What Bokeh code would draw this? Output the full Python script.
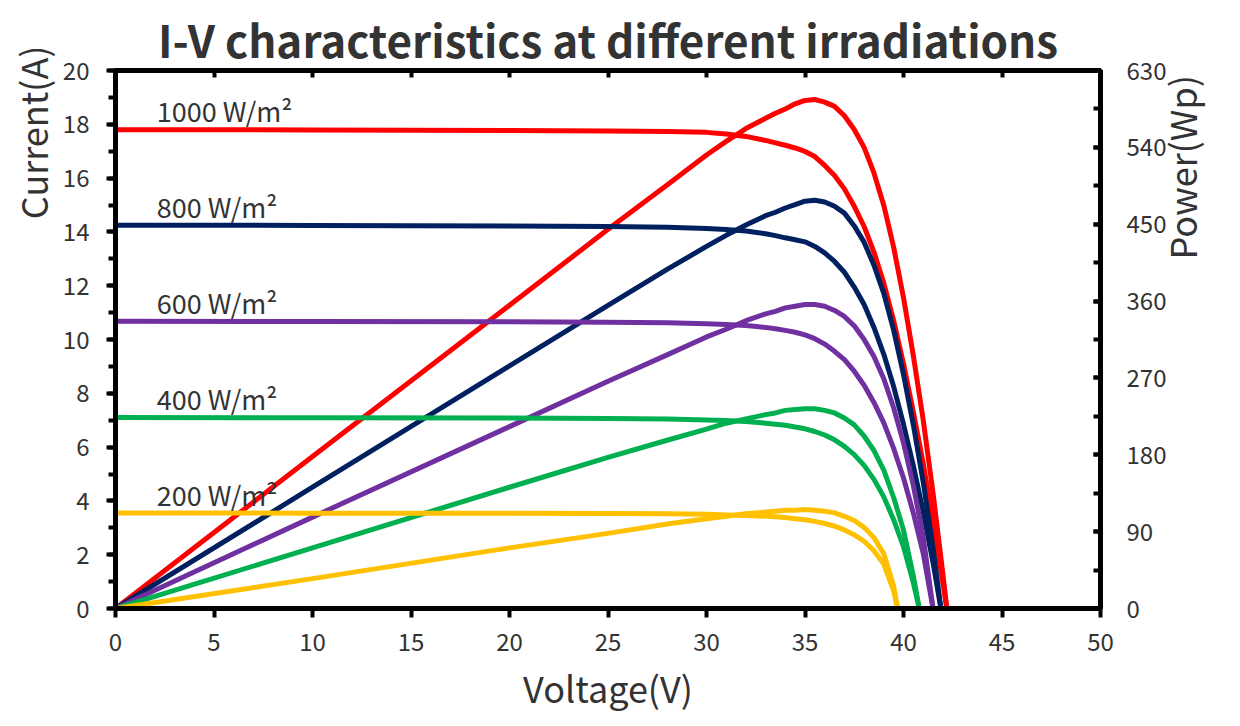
import math

from bokeh.embed import file_html
from bokeh.models import (CustomJSTickFormatter, Label, LinearAxis, Range1d,
                          SingleIntervalTicker, Title)
from bokeh.plotting import figure
from bokeh.resources import INLINE

# ---- data ----
irradiances = ["1000 W/m²", "800 W/m²", "600 W/m²", "400 W/m²", "200 W/m²"]
colors = ["#ff0000", "#002060", "#7030a0", "#00b050", "#ffc000"]

voltage_1000 = [0, 10, 20, 25, 28, 30, 31, 32, 33, 33.5, 34, 34.5, 35, 35.5, 36, 36.5,
                37, 37.5, 38, 38.5, 39, 39.5, 40, 40.5, 41, 41.5, 42, 42.2]
current_1000 = [17.80, 17.79, 17.77, 17.75, 17.73, 17.70, 17.64, 17.55, 17.40, 17.31,
                17.22, 17.12, 16.99, 16.80, 16.47, 16.10, 15.60, 14.95, 14.20, 13.25,
                12.10, 10.70, 9.10, 7.30, 5.40, 3.25, 0.95, 0]
power_1000 = [0, 178, 355, 444, 496, 531, 547, 562, 574, 580, 585, 591, 595, 596, 593, 588,
              577, 561, 540, 510, 472, 423, 364, 296, 221, 135, 40, 0]

voltage_800 = [0, 10, 20, 25, 28, 30, 31, 32, 33, 33.5, 34, 34.5, 35, 35.5, 36, 36.5,
               37, 37.5, 38, 38.5, 39, 39.5, 40, 40.5, 41, 41.5, 41.9]
current_800 = [14.25, 14.24, 14.22, 14.20, 14.17, 14.13, 14.09, 14.03, 13.93, 13.86,
               13.78, 13.71, 13.63, 13.46, 13.22, 12.90, 12.50, 11.95, 11.30, 10.45,
               9.45, 8.25, 6.85, 5.30, 3.60, 1.70, 0]
power_800 = [0, 142, 284, 355, 397, 424, 437, 449, 460, 464, 469, 473, 477, 478, 476, 471,
             463, 448, 429, 402, 369, 326, 274, 215, 148, 71, 0]

voltage_600 = [0, 10, 20, 25, 28, 30, 31, 32, 33, 33.5, 34, 34.5, 35, 35.5, 36, 36.5,
               37, 37.5, 38, 38.5, 39, 39.5, 40, 40.5, 41, 41.5]
current_600 = [10.68, 10.67, 10.66, 10.64, 10.62, 10.59, 10.56, 10.52, 10.45, 10.40,
               10.34, 10.27, 10.17, 10.03, 9.83, 9.56, 9.25, 8.82, 8.30, 7.66,
               6.90, 5.95, 4.85, 3.55, 2.05, 0]
power_600 = [0, 107, 213, 266, 297, 318, 327, 337, 345, 348, 352, 354, 356, 356, 354, 349,
             342, 331, 315, 295, 269, 235, 194, 144, 84, 0]

voltage_400 = [0, 10, 20, 25, 28, 30, 31, 32, 33, 33.5, 34, 34.5, 35, 35.5, 36, 36.5,
               37, 37.5, 38, 38.5, 39, 39.5, 40, 40.5, 40.8]
current_400 = [7.10, 7.09, 7.08, 7.06, 7.04, 7.01, 6.99, 6.95, 6.89, 6.85,
               6.81, 6.75, 6.68, 6.58, 6.45, 6.27, 6.03, 5.72, 5.32, 4.80,
               4.15, 3.30, 2.30, 0.95, 0]
power_400 = [0, 71, 142, 177, 197, 210, 217, 222, 227, 229, 232, 233, 234, 234, 232, 229,
             223, 215, 202, 185, 162, 130, 92, 38, 0]

voltage_200 = [0, 10, 20, 25, 28, 30, 31, 32, 33, 33.5, 34, 34.5, 35, 35.5, 36, 36.5,
               37, 37.5, 38, 38.5, 39, 39.5, 39.7]
current_200 = [3.55, 3.545, 3.54, 3.53, 3.52, 3.50, 3.48, 3.46, 3.43, 3.41,
               3.38, 3.34, 3.30, 3.24, 3.16, 3.06, 2.92, 2.74, 2.50, 2.15,
               1.65, 0.65, 0]
power_200 = [0, 35, 71, 88, 99, 105, 108, 111, 113, 114, 115, 115, 116, 115, 114, 112,
             108, 103, 95, 83, 64, 26, 0]

voltages = [voltage_1000, voltage_800, voltage_600, voltage_400, voltage_200]
currents = [current_1000, current_800, current_600, current_400, current_200]
powers = [power_1000, power_800, power_600, power_400, power_200]

FONT = "Noto Sans CJK SC"
TEXT = "#333333"

p = figure(frame_width=985, frame_height=538,
           min_border_left=115, min_border_right=132,
           min_border_top=70, min_border_bottom=100,
           x_range=Range1d(0, 50), y_range=Range1d(0, 20),
           output_backend="svg", toolbar_location=None)
p.extra_y_ranges = {"power": Range1d(0, 630)}
p.xgrid.visible = False
p.ygrid.visible = False
p.outline_line_color = "black"
p.outline_line_width = 5
p.background_fill_color = "white"
p.border_fill_color = "white"

# title
p.title.text = "I-V characteristics at different irradiations"
p.title.align = "center"
p.title.text_font = FONT
p.title.text_font_size = "44px"
p.title.text_font_style = "bold"
p.title.text_color = TEXT
p.title.standoff = 0

# bottom axis
xa = p.xaxis[0]
xa.ticker = SingleIntervalTicker(interval=5, num_minor_ticks=0)
xa.axis_line_width = 5
xa.major_tick_line_width = 4
xa.major_tick_out = 9
xa.major_tick_in = 0
xa.minor_tick_line_color = None
xa.major_label_standoff = 15
xa.major_label_text_font = FONT
xa.major_label_text_font_size = "24px"
xa.major_label_text_color = TEXT
xa.axis_label = "Voltage(V)"
xa.axis_label_standoff = 7
xa.axis_label_text_font = FONT
xa.axis_label_text_font_size = "36px"
xa.axis_label_text_font_style = "normal"
xa.axis_label_text_color = TEXT

# left axis
ya = p.yaxis[0]
ya.ticker = SingleIntervalTicker(interval=2, num_minor_ticks=2)
ya.axis_line_width = 5
ya.major_tick_line_width = 4
ya.minor_tick_line_width = 4
ya.major_tick_out = 9
ya.major_tick_in = 0
ya.minor_tick_out = 7
ya.minor_tick_in = 0
ya.major_label_standoff = 17
ya.major_label_text_font = FONT
ya.major_label_text_font_size = "24px"
ya.major_label_text_color = TEXT

# right axis (power); the rotated title starts at the axis middle and reads
# upward, two ideographic spaces lift the words toward the top like the reference
ra = LinearAxis(y_range_name="power", ticker=SingleIntervalTicker(interval=90, num_minor_ticks=2))
ra.axis_line_width = 5
ra.major_tick_line_width = 4
ra.minor_tick_line_width = 4
ra.major_tick_in = 7
ra.major_tick_out = 0
ra.minor_tick_in = 7
ra.minor_tick_out = 0
ra.major_label_standoff = 26
ra.major_label_text_font = FONT
ra.major_label_text_font_size = "24px"
ra.major_label_text_color = TEXT
ra.axis_label = "\u3000\u3000\u00a0Power(Wp)"
ra.axis_label_orientation = math.pi / 2
ra.axis_label_align = "center"
ra.axis_label_standoff = 12
ra.axis_label_text_font = FONT
ra.axis_label_text_font_size = "36px"
ra.axis_label_text_font_style = "normal"
ra.axis_label_text_color = TEXT
p.add_layout(ra, "right")

# top axis, ticks only
ta = LinearAxis(ticker=SingleIntervalTicker(interval=5, num_minor_ticks=0),
                formatter=CustomJSTickFormatter(code="return ''"))
ta.axis_line_width = 5
ta.major_tick_line_width = 4
ta.major_tick_in = 7
ta.major_tick_out = 0
ta.minor_tick_line_color = None
ta.major_label_standoff = 0
p.add_layout(ta, "above")

# current title, pushed to the top end like the reference
p.add_layout(Title(text="Current(A)", align="right", text_font=FONT, text_font_size="36px",
                   text_font_style="normal", text_color=TEXT, offset=-25, standoff=3), "left")

# curves
for v, i, pw, c in zip(voltages, currents, powers, colors):
    p.line(v, i, line_color=c, line_width=5, line_join="round", line_cap="round")
    p.line(v, pw, line_color=c, line_width=5, line_join="round", line_cap="round",
           y_range_name="power")

# irradiance labels above the I-V plateaus
for name, i in zip(irradiances, currents):
    p.add_layout(Label(x=2.1, y=i[0] + 0.7, text=name, text_font=FONT,
                       text_font_size="27px", text_color=TEXT,
                       text_baseline="alphabetic"))

open("out.html", "w").write(file_html(p, INLINE))
